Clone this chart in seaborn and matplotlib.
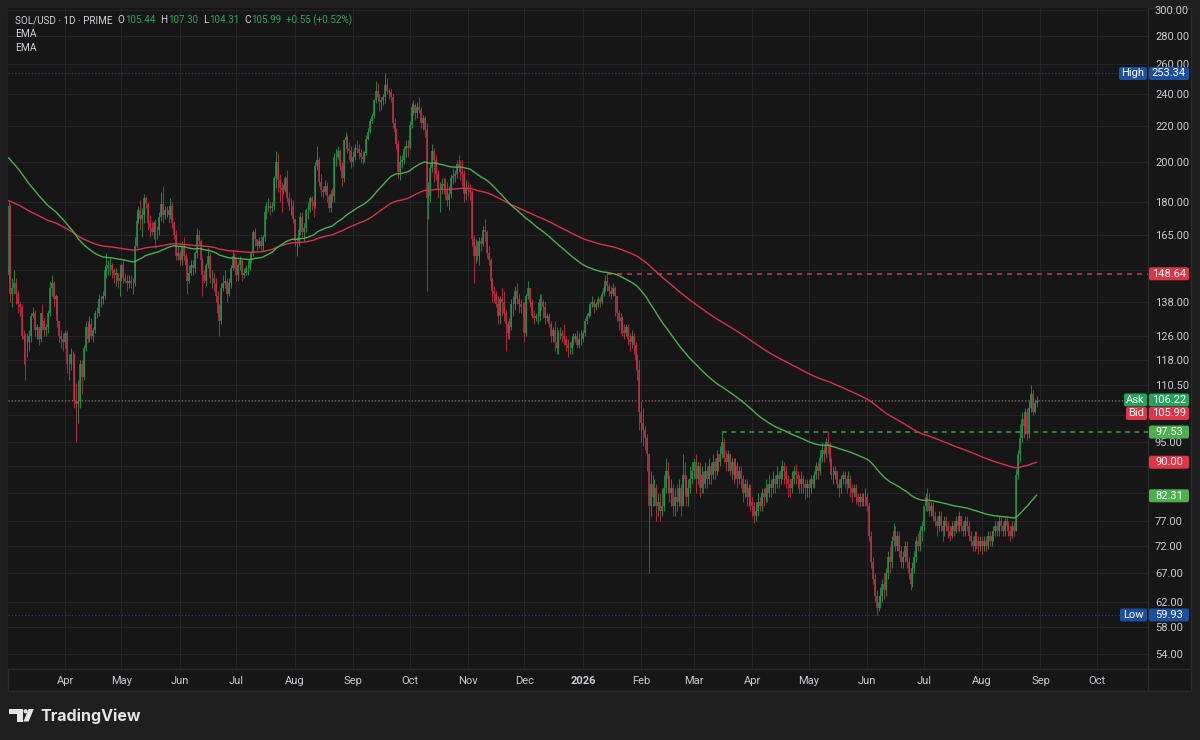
import numpy as np
import pandas as pd
import matplotlib
matplotlib.use("Agg")
import matplotlib.pyplot as plt
import matplotlib.dates as mdates
import matplotlib.transforms as mtransforms
from matplotlib.patches import Polygon, Circle, FancyBboxPatch, Rectangle
from matplotlib.lines import Line2D
from matplotlib.ticker import FixedLocator, FixedFormatter, NullLocator
import seaborn as sns

# ---- data (daily candles from 2 Mar 2025) ----
start_date = "2025-03-02"
first_open = 148.0

closes = [
    # 2025 Mar (2..31)
    178, 141, 143, 145, 141, 137, 136, 126, 125, 124, 124, 126, 133, 134, 128, 129, 125, 134, 131, 128,
    129, 134, 143, 145, 139, 140, 131, 126, 125, 124,
    # Apr
    127, 117, 117, 120, 120, 106, 105, 106, 117, 113, 122, 129, 125, 130, 126, 128, 134, 134, 139, 139,
    140, 150, 151, 152, 152, 150, 148, 149, 146, 147,
    # May
    152, 147, 146, 145, 146, 145, 145, 160, 171, 176, 172, 174, 182, 179, 170, 168, 166, 170, 167, 167,
    173, 179, 174, 176, 176, 174, 178, 170, 165, 156, 157,
    # Jun
    154, 160, 156, 152, 146, 149, 152, 151, 157, 165, 162, 154, 148, 146, 152, 156, 147, 147, 145, 140,
    134, 131, 143, 145, 146, 141, 145, 151, 156, 155,
    # Jul
    148, 152, 154, 148, 149, 151, 151, 154, 157, 166, 163, 160, 162, 160, 164, 175, 178, 178, 177, 178,
    192, 200, 191, 187, 186, 186, 192, 182, 178, 178, 172,
    # Aug
    162, 162, 167, 173, 166, 168, 176, 176, 182, 180, 178, 198, 201, 190, 186, 185, 188, 183, 177, 184,
    183, 203, 203, 206, 198, 192, 212, 214, 207, 206, 200,
    # Sep
    203, 208, 207, 205, 203, 202, 205, 213, 217, 223, 226, 236, 242, 238, 235, 236, 238, 246, 242, 241,
    238, 222, 217, 210, 195, 200, 201, 207, 209, 208,
    # Oct
    221, 232, 233, 228, 232, 230, 222, 225, 218, 182, 183, 197, 206, 201, 194, 186, 186, 189, 188, 186,
    181, 184, 192, 193, 194, 199, 198, 195, 194, 184, 187,
    # Nov
    186, 185, 163, 156, 160, 156, 162, 161, 167, 166, 157, 154, 146, 142, 141, 137, 133, 139, 138, 134,
    130, 127, 129, 137, 137, 142, 139, 137, 136, 136,
    # Dec
    127, 140, 143, 138, 133, 132, 133, 133, 139, 138, 136, 132, 133, 130, 126, 128, 124, 122, 127, 127,
    126, 125, 123, 122, 122, 124, 125, 126, 123, 125, 125,
    # 2026 Jan
    127, 131, 133, 134, 137, 138, 136, 137, 139, 138, 141, 143, 146, 144, 142, 141, 143, 140, 134, 131,
    132, 128, 127, 129, 125, 124, 126, 123, 118, 115, 103,
    # Feb
    100, 98, 96, 92, 80, 85, 82, 84, 80, 81, 79, 80, 84, 88, 86, 83, 84, 80, 82, 81,
    84, 80, 87, 86, 82, 84, 86, 88,
    # Mar
    90, 86, 89, 84, 87, 85, 88, 86, 89, 87, 90, 88, 91, 90, 92, 95, 91, 90, 92, 88,
    90, 87, 89, 86, 88, 86, 83, 85, 82, 84, 81,
    # Apr
    80, 78, 79, 81, 80, 83, 82, 84, 83, 85, 84, 86, 85, 87, 86, 88, 89, 88, 86, 85,
    84, 86, 88, 87, 86, 85, 86, 85, 84, 85,
    # May
    84, 86, 85, 87, 89, 88, 91, 93, 92, 95, 94, 90, 87, 87, 88, 85, 84, 86, 87, 86,
    85, 86, 84, 83, 84, 82, 81, 82, 81, 82, 82,
    # Jun
    80, 74, 69, 66, 63, 61, 62, 63, 65, 64, 67, 70, 69, 73, 75, 72, 74, 71, 69, 70,
    72, 69, 67, 65, 68, 70, 73, 72, 75, 76,
    # Jul
    80, 82, 81, 79, 80, 78, 77, 76, 78, 76, 75, 77, 76, 75, 74, 76, 75, 77, 76, 78,
    76, 75, 77, 76, 74, 73, 72, 74, 73, 72, 73,
    # Aug (1..30)
    72, 73, 72, 74, 73, 74, 75, 76, 75, 77, 76, 75, 77, 76, 75, 74, 76, 75, 87, 92,
    96, 101, 99, 103, 97, 104, 108, 103, 105.44, 105.99,
]

highs = [
    180, 179, 147, 150, 147, 142, 138, 137, 128, 127, 127, 128, 134, 136, 135, 130, 129, 134, 137, 132,
    130, 135, 146, 148, 146, 141, 140, 131, 128, 127,
    128, 128, 120, 122, 121, 120, 111, 112, 118, 118, 123, 131, 131, 133, 132, 129, 135, 136, 141, 140,
    142, 152, 157, 154, 155, 153, 151, 151, 149, 149,
    153, 154, 149, 148, 148, 148, 147, 164, 175, 178, 181, 177, 184, 183, 180, 174, 171, 171, 172, 169,
    175, 185, 188, 178, 178, 178, 182, 180, 171, 167, 160,
    158, 162, 164, 157, 155, 152, 154, 154, 158, 168, 167, 163, 155, 150, 153, 159, 157, 150, 149, 147,
    142, 137, 145, 148, 150, 147, 147, 152, 158, 157,
    155, 153, 156, 154, 151, 152, 154, 155, 158, 167, 168, 163, 164, 165, 165, 176, 180, 182, 180, 180,
    193, 206, 205, 194, 190, 189, 193, 196, 185, 182, 181,
    172, 164, 168, 175, 175, 170, 177, 180, 183, 183, 181, 200, 209, 203, 194, 188, 191, 190, 184, 186,
    187, 205, 207, 209, 207, 200, 213, 217, 215, 211, 209,
    206, 210, 212, 210, 207, 206, 206, 215, 219, 225, 228, 237, 248, 247, 240, 238, 240, 253.34, 250, 244,
    243, 240, 225, 219, 212, 204, 204, 209, 212, 212,
    223, 234, 236, 234, 235, 238, 232, 227, 226, 222, 190, 199, 210, 208, 204, 196, 190, 192, 192, 192,
    190, 188, 194, 197, 196, 201, 204, 201, 201, 196, 191,
    190, 189, 186, 165, 163, 162, 164, 164, 169, 172, 167, 160, 155, 147, 144, 142, 140, 140, 143, 142,
    135, 131, 132, 139, 140, 144, 145, 141, 139, 138,
    138, 141, 146, 143, 139, 135, 134, 138, 141, 141, 139, 138, 134, 134, 131, 129, 131, 129, 128, 129,
    128, 130, 126, 125, 124, 126, 127, 127, 128, 127, 128,
    128, 132, 134, 136, 138, 140, 139, 138, 140, 140, 142, 144, 148, 148.64, 145, 144, 145, 144, 140, 135,
    134, 133, 130, 130, 130, 127, 128, 127, 124, 120, 118,
    106, 104, 99, 97, 91, 88, 87, 86, 85, 83, 83, 84, 87, 91, 90, 87, 86, 85, 84, 85,
    86, 85, 92, 90, 87, 86, 89, 90,
    91, 92, 90, 90, 89, 88, 90, 89, 91, 90, 92, 91, 93, 92, 94, 97.53, 96, 93, 93, 92,
    91, 91, 91, 90, 89, 89, 87, 86, 86, 85, 85,
    82, 81, 81, 83, 82, 84, 84, 86, 85, 87, 86, 88, 87, 89, 88, 89, 90.5, 90, 89, 87,
    86, 88, 89, 89.5, 88, 87, 88, 87, 86, 86,
    86, 87, 87, 88, 90, 90, 93, 95, 94, 96, 97.9, 95, 91, 89, 89, 88, 86, 87, 88, 88,
    87, 88, 87, 85, 85, 85, 83, 83, 83, 83, 84,
    83, 81, 75, 70, 67, 64, 63, 64.5, 66, 67, 68, 71, 72, 74, 76.5, 76, 75, 75, 72, 71,
    73, 73, 70, 68, 69, 71, 74, 74.5, 76, 77,
    80, 83, 84, 83, 81, 81, 79, 78, 79, 79, 77, 78, 78, 77, 76, 77, 77, 78, 78, 79,
    78, 77, 78, 78, 77, 75, 74, 75, 75, 74, 74,
    74, 74, 74, 75, 75, 75, 76, 77, 77, 78, 78, 77, 78, 78, 77, 76, 77, 77, 88.5, 93,
    99.7, 103, 102, 104, 104, 106, 110.5, 109, 106.5, 107.30,
]

lows = [
    145, 138, 136, 141, 137, 134, 133, 125, 117, 112, 119, 121, 124, 132, 126, 125, 123, 124, 128, 126,
    126, 127, 133, 140, 136, 134, 129, 124, 122, 121,
    122, 114, 112, 115, 116, 104, 95, 100, 104, 108, 112, 121, 124, 124, 125, 124, 127, 132, 133, 136,
    137, 139, 147, 148, 148, 147, 145, 144, 143, 140,
    146, 145, 145, 142, 143, 143, 141, 144, 159, 170, 167, 164, 170, 177, 167, 164, 165, 163, 159, 163,
    165, 171, 170, 172, 173, 170, 172, 168, 163, 154, 154,
    152, 152, 154, 150, 141, 145, 148, 148, 149, 155, 160, 152, 140, 145, 144, 151, 145, 143, 142, 138,
    133, 126, 130, 142, 143, 138, 140, 143, 150, 151,
    146, 146, 150, 146, 147, 148, 148, 150, 153, 156, 160, 158, 159, 158, 158, 162, 172, 175, 174, 175,
    176, 187, 185, 180, 175, 184, 185, 180, 176, 174, 170,
    160, 156, 160, 165, 164, 162, 166, 172, 175, 176, 173, 177, 196, 188, 183, 182, 184, 180, 175, 175,
    180, 180, 198, 202, 196, 188, 190, 208, 205, 201, 197,
    198, 201, 205, 202, 200, 199, 200, 204, 212, 216, 222, 225, 234, 236, 229, 230, 233, 234, 240, 237,
    235, 219, 212, 207, 192, 191, 197, 199, 203, 203,
    207, 219, 227, 224, 225, 228, 219, 218, 214, 142, 172, 180, 195, 190, 191, 182, 175, 184, 184, 181,
    178, 176, 182, 189, 190, 192, 196, 191, 188, 180, 181,
    183, 181, 160, 145, 153, 154, 152, 158, 160, 162, 155, 152, 144, 138, 138, 136, 130, 130, 133, 131,
    121, 125, 125, 128, 133, 135, 137, 134, 134, 133,
    124, 126, 139, 136, 132, 130, 131, 130, 131, 135, 132, 130, 131, 129, 124, 124, 121, 120, 120, 125,
    124, 123, 121, 119, 120, 120, 123, 124, 122, 122, 123,
    124, 126, 130, 132, 133, 136, 134, 135, 136, 136, 137, 140, 142, 142, 140, 139, 140, 133, 131, 128,
    127, 126, 125, 126, 123, 121, 122, 120, 115, 112, 98,
    95, 94, 93, 88, 67, 78, 80, 80, 77, 78, 77, 78, 79, 83, 83, 81, 80, 78, 78, 79,
    80, 78, 80, 83, 80, 80, 83, 85,
    86, 83, 85, 82, 83, 83, 84, 84, 85, 85, 86, 86, 87, 88, 89, 91, 90, 88, 88, 87,
    86, 85, 86, 84, 85, 84, 81, 82, 80, 80, 79,
    78, 76.6, 77, 78, 79, 79, 80, 81, 81, 82, 82, 83, 83, 84, 84, 85, 86, 85, 84, 82,
    82, 83, 85, 85, 84, 83, 83, 83, 81.5, 82,
    82, 83, 84, 84, 86, 86, 87, 90, 90, 91, 92, 89, 86, 85, 86, 84, 82, 83, 85, 84,
    83, 84, 82, 81, 82, 80.5, 80, 80, 80, 80, 80,
    79, 73, 68, 65, 62, 59.93, 60.5, 61, 62, 62.5, 63, 66, 67, 68, 72, 71, 71, 70, 68, 68,
    69, 68, 66, 64, 64.5, 67, 69, 71, 71, 73,
    75, 79, 79, 78, 78, 77, 76, 74, 75, 75, 73, 74, 75, 73.5, 73, 73.5, 74, 74.5, 75, 75,
    75, 74, 74, 75, 73, 72, 71, 71, 71.5, 70.5, 71,
    70.5, 71, 71, 71.5, 72, 72, 73, 74, 74, 74, 75, 74, 74, 75, 74, 73, 73.5, 74, 75, 86,
    90, 95, 96, 97, 95.5, 96, 103, 102, 102.5, 104.31,
]

ema_fast_span, ema_slow_span = 100, 200
ema_fast_seed, ema_slow_seed = 203.0, 180.6

price_ticks = [300, 280, 260, 240, 220, 200, 180, 165, 150, 138, 126, 118, 110.5,
               102, 95, 89, 83, 77, 72, 67, 62, 58, 54]
hidden_ticks = [150, 102, 89, 83]          # covered by the price tags on the scale
month_ticks = pd.date_range("2025-04-01", "2026-10-01", freq="MS")

high_level, low_level = 253.34, 59.93
ask_price, bid_price = 106.22, 105.99
resist_level, resist_start = 148.64, "2026-01-14"
support_level, support_start = 97.53, "2026-03-16"
ema_fast_last, ema_slow_last = 82.31, 90.00
header_name = "SOL/USD · 1D · PRIME"
header_ohlc = [("O", 105.44), ("H", 107.30), ("L", 104.31), ("C", 105.99)]
header_change = "+0.55 (+0.52%)"

# ---- colours ----
OUTER = "#1f1f1f"
BG = "#161616"
BORDER = "#2b2b2b"
GRID = "#242424"
TEXT = "#c8cbd2"
WHITE = "#d1d4dc"
UP = "#22964f"
DOWN = "#c92d46"
EMA_FAST_C = "#4caf50"
EMA_SLOW_C = "#d6334b"
GREEN_TXT = "#2ea55a"
BLUE_TAG = "#1c4f9e"

sns.set_theme(style="dark", rc={"axes.facecolor": BG, "figure.facecolor": OUTER})
plt.rcParams["font.family"] = ["Roboto", "DejaVu Sans"]

c = np.asarray(closes, dtype=float)
o = np.r_[first_open, c[:-1]]
h = np.maximum.reduce([np.asarray(highs, dtype=float), o, c])
l = np.minimum.reduce([np.asarray(lows, dtype=float), o, c])
dates = pd.date_range(start_date, periods=len(c), freq="D")
xd = mdates.date2num(dates)

df = pd.DataFrame({"x": xd, "close": c})
df["ema_fast"] = pd.Series(np.r_[ema_fast_seed, c]).ewm(span=ema_fast_span, adjust=False).mean().values[1:]
df["ema_slow"] = pd.Series(np.r_[ema_slow_seed, c]).ewm(span=ema_slow_span, adjust=False).mean().values[1:]

W, H = 1200, 740
fig = plt.figure(figsize=(12, 7.4), dpi=100, facecolor=OUTER)
ident = mtransforms.IdentityTransform()

# chart panel background
fig.add_artist(Rectangle((8, H - 691), 1183, 683, transform=ident, fc=BG, ec=BORDER, lw=1, zorder=-5))

ax = fig.add_axes([8 / W, (H - 669) / H, 1140 / W, 661 / H])
ax.set_facecolor(BG)
ax.set_yscale("log")

up = c >= o
dn = ~up
ax.vlines(xd[up], l[up], h[up], color=UP, lw=0.6, zorder=3)
ax.vlines(xd[up], o[up], c[up], color=UP, lw=1.1, zorder=3)
ax.vlines(xd[dn], l[dn], h[dn], color=DOWN, lw=0.6, zorder=3)
ax.vlines(xd[dn], o[dn], c[dn], color=DOWN, lw=1.1, zorder=3)

sns.lineplot(data=df, x="x", y="ema_slow", color=EMA_SLOW_C, lw=1.0, ax=ax, zorder=4)
sns.lineplot(data=df, x="x", y="ema_fast", color=EMA_FAST_C, lw=1.0, ax=ax, zorder=4)

x0 = pd.Timestamp("2025-03-01")
xmin = mdates.date2num(x0 + pd.Timedelta(days=0.73))
xmax = mdates.date2num(x0 + pd.Timedelta(days=606.1))
ax.set_xlim(xmin, xmax)
ax.set_ylim(51.9, 301.6)

# level lines
ax.axhline(high_level, color="#24498c", lw=0.8, ls=(0, (1, 2)), zorder=2)
ax.axhline(low_level, color="#24498c", lw=0.8, ls=(0, (1, 2)), zorder=2)
ax.axhline(ask_price, color="#3f8f55", lw=0.8, ls=(0, (1, 2)), zorder=2)
ax.axhline(bid_price, color="#9a3a45", lw=0.8, ls=(0, (1, 2)), zorder=2)
ax.hlines(resist_level, mdates.date2num(pd.Timestamp(resist_start)), xmax,
          color="#c9344a", lw=1.2, ls=(0, (3, 3)), zorder=2)
ax.hlines(support_level, mdates.date2num(pd.Timestamp(support_start)), xmax,
          color="#43a047", lw=1.1, ls=(0, (3, 3)), zorder=2)

# axes / ticks
ax.yaxis.tick_right()
ax.yaxis.set_major_locator(FixedLocator(price_ticks))
ax.yaxis.set_major_formatter(FixedFormatter(["" if p in hidden_ticks else f"{p:.2f}" for p in price_ticks]))
ax.yaxis.set_minor_locator(NullLocator())
ax.set_xticks(mdates.date2num(month_ticks))
ax.set_xticklabels([str(d.year) if d.month == 1 else d.strftime("%b") for d in month_ticks])
for lab, d in zip(ax.get_xticklabels(), month_ticks):
    if d.month == 1:
        lab.set_fontweight("bold")
        lab.set_color(WHITE)
ax.xaxis.set_minor_locator(NullLocator())
ax.tick_params(axis="y", which="both", length=0, pad=5, labelsize=8, labelcolor=TEXT)
ax.tick_params(axis="x", which="both", length=0, pad=5, labelsize=8, labelcolor=TEXT)
ax.grid(True, which="major", color=GRID, lw=0.8)
ax.set_axisbelow(True)
ax.set_xlabel("")
ax.set_ylabel("")
for s in ax.spines.values():
    s.set_visible(False)

# separators
fig.add_artist(Line2D([1148, 1148], [H - 691, H - 8], transform=ident, color=BORDER, lw=1))
fig.add_artist(Line2D([8, 1191], [H - 669, H - 669], transform=ident, color=BORDER, lw=1))


# price tags on the right scale
def ypix(price):
    return ax.transData.transform((xmin, price))[1]


def tag(yc, color, text, label=None, label_w=0):
    fig.add_artist(FancyBboxPatch((1149, yc - 6.5), 40, 13, boxstyle="round,pad=0,rounding_size=2",
                                  transform=ident, fc=color, ec="none", zorder=5))
    fig.text(1169, yc, text, transform=ident, ha="center", va="center", color="white",
             fontsize=8, zorder=6)
    if label:
        fig.add_artist(FancyBboxPatch((1147 - label_w, yc - 6.5), label_w, 13,
                                      boxstyle="round,pad=0,rounding_size=2",
                                      transform=ident, fc=color, ec="none", zorder=5))
        fig.text(1147 - label_w / 2, yc, label, transform=ident, ha="center", va="center",
                 color="white", fontsize=8, zorder=6)


tag(ypix(high_level), BLUE_TAG, f"{high_level:.2f}", "High", 28)
tag(ypix(resist_level), "#e03448", f"{resist_level:.2f}")
tag(ypix(support_level), "#4caf50", f"{support_level:.2f}")
tag(ypix(ema_slow_last), "#e03448", f"{ema_slow_last:.2f}")
tag(ypix(ema_fast_last), "#4caf50", f"{ema_fast_last:.2f}")
tag(ypix(ask_price), "#22a55b", f"{ask_price:.2f}", "Ask", 23)
tag(ypix(ask_price) - 13.5, "#e03448", f"{bid_price:.2f}", "Bid", 21)
tag(ypix(low_level), BLUE_TAG, f"{low_level:.2f}", "Low", 27)

# header legend, laid out piece by piece
renderer = fig.canvas.get_renderer()
hy = H - 20
xpos = 15.0


def put(s, color, gap):
    global xpos
    t = fig.text(xpos, hy, s, transform=ident, ha="left", va="center", color=color, fontsize=7.1)
    xpos = t.get_window_extent(renderer).x1 + gap


put(header_name, WHITE, 5)
for k, v in header_ohlc:
    put(k, WHITE, 0.5)
    put(f"{v:.2f}", GREEN_TXT, 5)
put(header_change, GREEN_TXT, 0)
fig.text(15, H - 34, "EMA", transform=ident, ha="left", va="center", color=WHITE, fontsize=7.4)
fig.text(15, H - 48, "EMA", transform=ident, ha="left", va="center", color=WHITE, fontsize=7.4)

# TradingView logo
LOGO = "#e6e6e6"
fig.add_artist(Polygon([(9.3, H - 709), (23, H - 709), (23, H - 721.5), (17, H - 721.5),
                        (17, H - 714), (9.3, H - 714)], closed=True, transform=ident, fc=LOGO, ec="none"))
fig.add_artist(Circle((25.6, H - 711.3), 2.1, transform=ident, fc=LOGO, ec="none"))
fig.add_artist(Polygon([(28.6, H - 709), (33.8, H - 709), (28.6, H - 721.5), (23.4, H - 721.5)],
                       closed=True, transform=ident, fc=LOGO, ec="none"))
fig.text(40, H - 716, "TradingView", transform=ident, ha="left", va="center", color=LOGO,
         fontsize=11.5, fontweight="bold", family=["Inter", "DejaVu Sans"])

fig.savefig("out.png", dpi=100, facecolor=OUTER)
